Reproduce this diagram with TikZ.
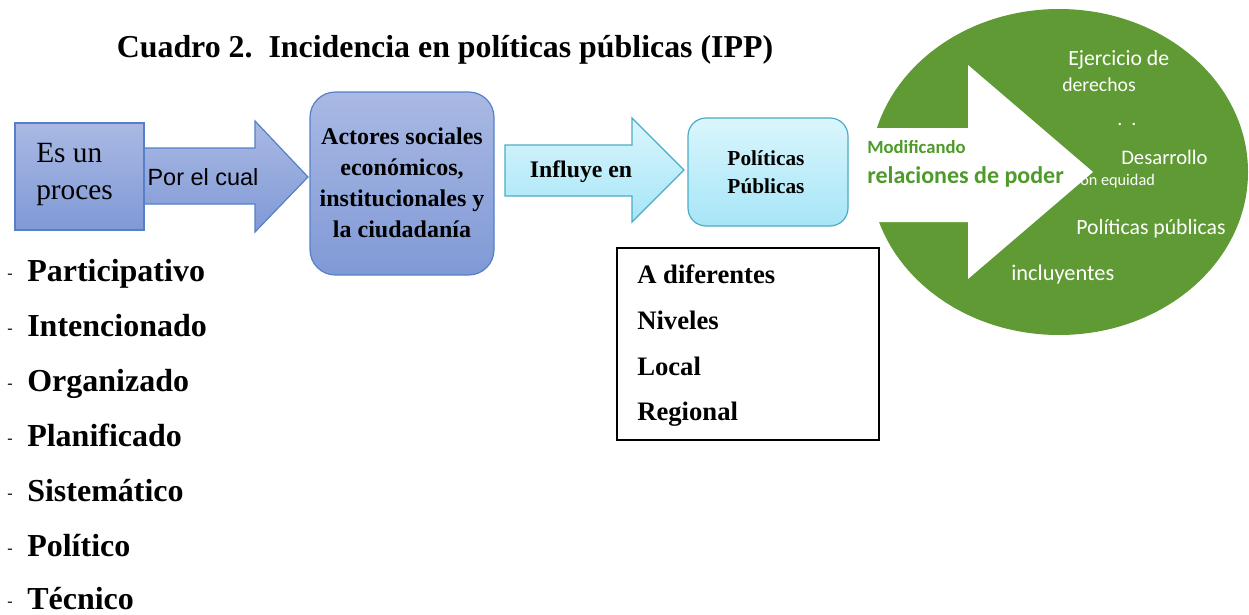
\documentclass[tikz,border=0pt]{standalone}
\usepackage{fontspec}
\setmainfont{Liberation Serif}
\setsansfont{Liberation Sans}
\newfontfamily\grfont{Carlito}
\definecolor{bluetop}{HTML}{A9B9E3}
\definecolor{bluebot}{HTML}{8099D6}
\definecolor{blueedge}{HTML}{5580C8}
\definecolor{cyantop}{HTML}{DAF6FD}
\definecolor{cyanbot}{HTML}{A6E5F7}
\definecolor{cyanedge}{HTML}{4BACC6}
\definecolor{leaf}{HTML}{5F9A34}
\definecolor{leafdark}{HTML}{4E9A2A}
\tikzset{
  bluefill/.style={top color=bluetop, bottom color=bluebot, draw=blueedge, line width=0.9pt},
  cyanfill/.style={top color=cyantop, bottom color=cyanbot, draw=cyanedge, line width=0.9pt},
  whitetxt/.style={text=white, inner sep=0pt, anchor=west},
}
\begin{document}
\begin{tikzpicture}[x=0.75pt,y=-0.75pt]
\useasboundingbox (0,0) rectangle (1249,614);

% title
\node[inner sep=0pt, font=\fontsize{23.9}{28}\selectfont\bfseries] (title) at (445,50) {Cuadro 2.\ \ Incidencia en políticas públicas (IPP)};

% green ellipse with white arrow
\fill[leaf] (1059,172) ellipse [x radius=189, y radius=163];
\fill[white] (856,128) -- (968,128) -- (968,65) -- (1093,172) -- (968,279) -- (968,222) -- (856,222) -- cycle;
\node[inner sep=0pt, anchor=west, text=leafdark, font=\grfont\bfseries\fontsize{14}{16}\selectfont] (modif) at (867,147) {Modificando};
\node[inner sep=0pt, anchor=west, text=leafdark, font=\grfont\bfseries\fontsize{18}{20}\selectfont] (relac) at (867,177) {relaciones de poder};
\node[whitetxt, font=\grfont\fontsize{16.3}{18}\selectfont] (ej) at (1068,60) {Ejercicio de};
\node[whitetxt, font=\grfont\fontsize{14.8}{18}\selectfont] (der) at (1062,85) {derechos};
\node[whitetxt, font=\grfont\fontsize{15}{18}\selectfont] (dots) at (1117,124) {.\ \ .};
\node[whitetxt, font=\grfont\fontsize{15.5}{18}\selectfont] (des) at (1121,157) {Desarrollo};
\node[whitetxt, font=\grfont\fontsize{12.2}{14}\selectfont] (equi) at (1080,181) {on equidad};
\node[whitetxt, font=\grfont\fontsize{16.3}{18}\selectfont] (polp) at (1076,229) {Políticas públicas};
\node[whitetxt, font=\grfont\fontsize{16.8}{18}\selectfont] (incl) at (1011,275) {incluyentes};

% arrow "Por el cual"
\path[bluefill] (144,148) -- (255,148) -- (255,121) -- (308,177) -- (255,232) -- (255,204) -- (144,204) -- cycle;
\node[inner sep=0pt, font=\sffamily\fontsize{17.6}{20}\selectfont] (porel) at (203,177) {Por el cual};

% box "Es un proces"
\path[bluefill] (15,123) rectangle (144,230);
\node[inner sep=0pt, anchor=west, align=left, font=\fontsize{22}{27.75}\selectfont] (esun) at (36,175) {Es un\\proces};

% box actores
\path[bluefill, rounded corners=19pt] (310,92) rectangle (494,275);
\node[inner sep=0pt, align=center, font=\fontsize{18}{23.25}\selectfont\bfseries] (actores) at (402,183) {Actores sociales\\económicos,\\institucionales y\\la ciudadanía};

% arrow "Influye en"
\path[cyanfill] (505,145) -- (632,145) -- (632,118) -- (684,170) -- (632,222) -- (632,196) -- (505,196) -- cycle;
\node[inner sep=0pt, font=\fontsize{17.8}{20}\selectfont\bfseries] (influye) at (581,172) {Influye en};

% box politicas publicas
\path[cyanfill, rounded corners=13.5pt] (688,118) rectangle (848,226);
\node[inner sep=0pt, align=center, font=\fontsize{16}{21}\selectfont\bfseries] (polpub) at (766,172) {Políticas\\Públicas};

% levels box
\draw[line width=0.8pt, fill=white] (617,248) rectangle (879,440);
\foreach \t/\yy [count=\i] in {A diferentes/283, Niveles/329, Local/375, Regional/420} {
  \node[inner sep=0pt, anchor=base west, font=\fontsize{20}{24}\selectfont\bfseries] (lev\i) at (637,\yy) {\t};
}

% list
\foreach \t/\yy [count=\i] in {Participativo/281, Intencionado/336, Organizado/391, Planificado/446, Sistemático/501, Político/556, Técnico/609} {
  \node[inner sep=0pt, anchor=base west, font=\fontsize{24}{28}\selectfont\bfseries] (item\i) at (27,\yy) {\t};
  \node[inner sep=0pt, anchor=base west, font=\fontsize{12}{14}\selectfont] (dash\i) at (7,\yy-3) {-};
}
\end{tikzpicture}
\end{document}
